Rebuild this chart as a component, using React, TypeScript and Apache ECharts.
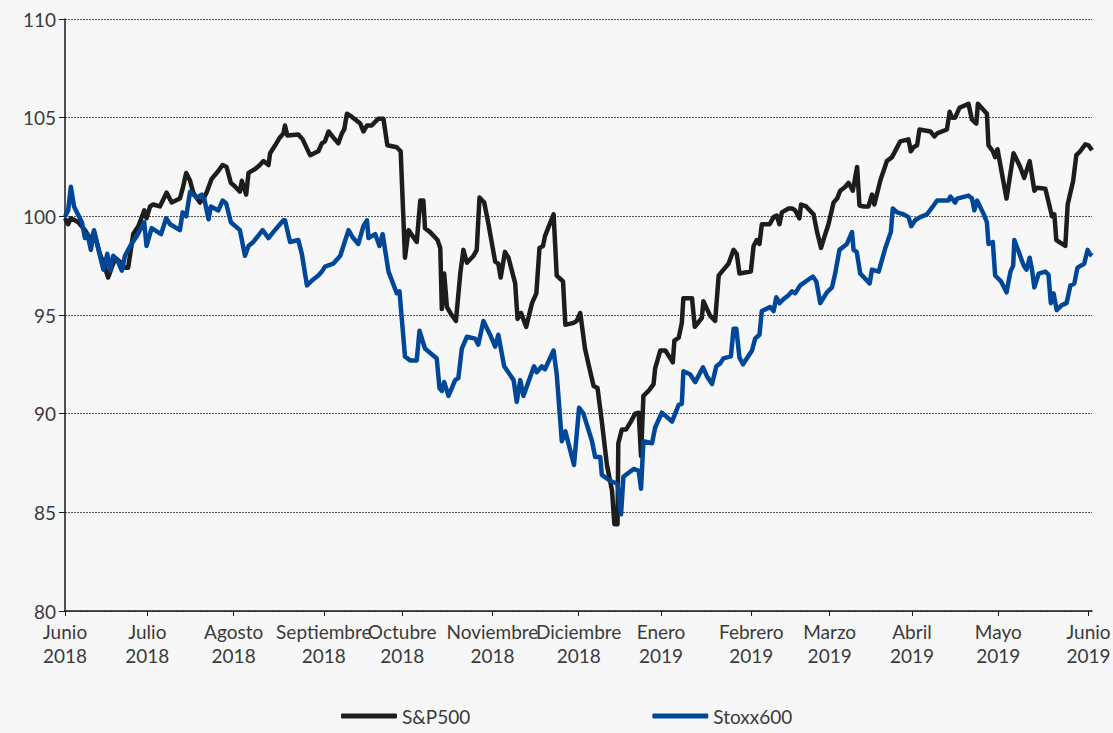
import React, { useEffect, useRef } from "react";
import * as echarts from "echarts";

// x = weekday index counted from 1 June 2018
const monthTicks = [0, 21, 43, 66, 86, 109, 131, 152, 175, 195, 216, 238, 261];
const monthLabels = [
  "Junio\n2018", "Julio\n2018", "Agosto\n2018", "Septiembre\n2018", "Octubre\n2018",
  "Noviembre\n2018", "Diciembre\n2018", "Enero\n2019", "Febrero\n2019", "Marzo\n2019",
  "Abril\n2019", "Mayo\n2019", "Junio\n2019",
];
const seriesNames = ["S&P500", "Stoxx600"];

const spX = [0,0.8,1.5,3.4,5.1,6.6,7.4,8.9,10.2,11.0,11.9,12.8,14.0,15.3,16.1,17.4,18.7,20.2,20.8,21.7,22.5,24.2,25.9,27.2,29.3,30.0,30.9,31.9,32.7,34.4,35.3,36.1,37.4,39.1,40.2,41.2,42.3,43.4,44.6,45.1,46.2,46.8,48.5,49.7,50.6,51.9,52.3,53.6,54.8,55.7,56.1,56.7,59.5,60.6,62.5,64.6,65.5,66.3,67.2,68.4,69.7,70.6,71.2,71.9,73.1,75.3,76.1,77.0,78.2,79.9,81.2,82.2,84.6,85.6,86.7,87.6,89.7,90.6,91.4,91.8,93.1,95.0,95.7,96.1,96.7,97.4,98.6,99.7,100.8,101.6,102.5,104.2,105.0,105.7,106.9,108.0,109.7,110.5,111.1,112.2,113.1,114.8,115.4,116.3,117.6,119.1,120.2,121.0,121.9,122.4,124.6,125.4,127.0,127.6,129.7,130.5,131.4,132.6,133.5,134.8,135.8,136.9,138.2,139.5,140.1,140.9,141.1,142.0,143.1,144.3,145.4,146.3,146.9,147.5,148.8,150.1,150.5,151.8,153.1,155.0,155.4,156.5,157.3,157.7,159.9,160.6,162.4,162.8,164.5,165.8,166.7,167.5,169.2,170.5,171.3,172.0,174.9,175.6,176.4,177.1,177.7,179.7,180.7,181.5,182.2,182.8,184.5,185.4,186.2,187.3,187.7,189.0,190.9,191.8,192.8,193.4,194.7,196.0,196.9,197.7,199.0,199.8,200.9,202.0,202.6,203.7,204.9,205.8,206.4,207.9,209.6,210.9,213.0,215.1,215.7,216.4,217.3,217.9,220.7,221.7,222.4,224.9,225.6,226.2,227.0,228.1,230.4,231.3,232.4,232.8,235.1,235.5,236.6,237.2,237.8,240.1,241.9,243.6,244.6,246.0,247.2,247.9,250.0,251.7,252.3,252.8,255.1,255.7,257.1,257.9,258.9,260.2,261.0,261.9];
const spY = [99.9,99.6,99.9,99.7,99.3,98.8,99.2,98.1,97.4,96.9,97.4,97.9,97.7,97.4,97.4,99.1,99.5,100.3,99.9,100.5,100.6,100.5,101.2,100.7,100.9,101.4,102.2,101.8,101.2,100.7,100.9,101.2,101.9,102.3,102.6,102.5,101.7,101.5,101.25,101.8,101.1,102.2,102.4,102.6,102.8,102.6,103.2,103.6,104.0,104.2,104.6,104.1,104.15,103.9,103.1,103.3,103.7,103.8,104.3,104.0,103.7,104.2,104.4,105.2,105.05,104.7,104.3,104.6,104.6,104.95,104.95,103.6,103.5,103.3,97.9,99.3,98.7,100.8,100.8,99.4,99.2,98.8,98.4,95.3,97.1,95.4,95.0,94.7,97.1,98.3,97.65,98.0,98.3,100.95,100.7,99.6,97.7,97.6,96.9,98.2,97.9,96.6,94.8,95.1,94.4,95.6,96.1,98.4,98.5,99.0,100.1,97.0,96.7,94.5,94.6,94.7,95.1,93.3,92.5,91.4,91.3,89.6,87.4,86.1,84.4,84.4,88.5,89.2,89.2,89.6,90.0,90.05,87.85,90.9,91.15,91.5,92.3,93.2,93.2,92.6,93.7,93.85,94.6,95.85,95.85,94.4,94.85,95.7,94.97,94.7,97.0,97.2,97.6,98.3,98.1,97.1,97.2,98.5,98.8,98.6,99.6,99.6,99.96,100.04,99.6,100.2,100.4,100.4,100.3,99.9,100.6,100.5,100.1,99.2,98.4,98.8,99.6,100.7,100.9,101.3,101.5,101.7,101.3,102.5,100.55,100.5,100.5,101.1,100.6,101.8,102.8,103.0,103.8,103.9,103.3,103.5,103.6,104.4,104.3,104.05,104.2,104.4,105.3,105.0,105.0,105.5,105.7,104.9,104.7,105.7,105.2,103.6,103.3,103.0,103.4,100.9,103.2,102.5,101.95,102.8,101.3,101.45,101.4,100.0,100.1,98.8,98.5,100.6,101.8,103.1,103.3,103.65,103.6,103.35];

const sxX = [0,0.8,1.5,2.3,4.3,5.1,5.7,6.6,7.4,8.9,9.8,10.8,11.5,12.3,13.3,14.5,15.3,16.8,18.3,20.2,20.8,22.1,24.5,25.8,26.8,29.3,30.0,30.9,31.9,33.6,34.9,35.5,36.6,37.2,39.1,40.2,41.1,42.3,44.6,45.9,46.8,48.0,50.4,51.9,53.1,55.7,56.1,57.4,59.5,60.4,61.7,63.3,64.6,65.5,66.3,68.4,70.2,72.3,73.5,74.8,76.1,77.0,77.4,79.1,80.2,81.0,82.5,84.6,85.3,86.7,88.0,89.7,90.4,91.8,94.8,95.5,96.1,96.7,97.8,99.5,100.3,101.2,102.5,104.6,105.4,106.7,108.4,109.7,110.5,112.0,114.4,115.2,116.1,116.9,119.6,120.3,121.6,122.4,124.6,125.4,126.7,127.6,129.8,131.1,132.2,134.4,135.2,136.5,136.9,139.0,140.9,141.8,142.4,145.0,146.3,146.9,147.5,149.7,150.5,152.2,153.1,154.8,156.5,157.3,157.7,159.4,160.7,162.7,163.7,165.0,166.1,167.1,167.9,169.8,170.5,171.2,172.0,172.9,175.2,176.0,177.1,177.7,179.8,180.7,181.4,182.2,183.2,184.5,185.4,186.2,187.5,189.6,190.7,191.6,192.6,194.3,195.6,196.4,197.5,199.4,200.7,201.1,201.9,202.8,205.2,205.8,207.5,209.2,210.6,211.1,212.2,213.9,215.1,215.8,216.8,218.1,219.8,221.5,222.4,225.3,225.8,227.0,227.5,230.4,231.3,231.9,232.6,234.3,235.1,235.5,236.6,237.2,238.7,240.1,241.1,241.8,242.1,243.2,244.5,245.2,246.0,246.6,247.2,248.3,250.0,250.8,251.4,252.1,252.9,254.2,255.4,256.4,257.4,258.2,259.9,260.8,261.3,261.9];
const sxY = [100.0,100.3,101.5,100.5,99.7,98.9,99.1,98.3,99.3,98.0,97.3,98.1,97.25,98.0,97.8,97.25,98.0,98.55,99.0,99.7,98.5,99.4,99.1,99.9,99.6,99.3,100.2,100.0,101.25,100.95,101.1,100.9,99.85,100.5,100.3,100.8,100.65,99.7,99.3,98.0,98.5,98.7,99.3,98.9,99.2,99.8,99.8,98.7,98.8,98.1,96.5,96.8,97.0,97.2,97.45,97.6,98.0,99.3,98.9,98.6,99.5,99.8,98.9,99.1,98.5,99.1,97.2,96.1,96.2,92.9,92.7,92.7,94.2,93.3,92.8,91.3,91.15,91.6,90.9,91.7,91.8,93.3,93.9,93.8,93.5,94.7,94.0,93.4,94.0,92.4,91.7,90.6,91.7,90.9,92.4,92.1,92.4,92.25,93.2,92.0,88.6,89.1,87.4,90.3,90.0,88.6,87.8,87.8,86.9,86.6,86.45,84.9,86.8,87.2,87.1,86.2,88.6,88.5,89.3,90.05,89.9,89.6,90.45,90.5,92.15,92.0,91.6,92.35,91.9,91.5,92.4,92.55,92.8,92.9,94.3,94.3,92.85,92.5,93.2,93.8,94.0,95.2,95.4,95.2,95.9,95.6,95.8,96.0,96.2,96.1,96.5,96.8,96.95,96.7,95.6,96.15,96.4,97.1,98.3,98.6,99.2,98.3,98.2,97.1,96.6,97.3,97.2,98.4,99.2,100.4,100.2,100.1,99.96,99.5,99.8,99.96,100.1,100.55,100.8,100.8,101.0,100.7,100.9,101.05,100.9,100.3,100.8,100.1,99.7,98.6,98.7,97.0,96.7,96.15,97.2,97.5,98.8,98.2,97.5,97.3,97.9,97.3,96.4,97.1,97.2,97.05,95.6,96.1,95.25,95.5,95.6,96.5,96.6,97.4,97.6,98.3,98.1,98.0];

const FONT = "Lato, 'Open Sans', sans-serif";
const TXT = "#3a3a3a";

export default function App() {
  const ref = useRef<HTMLDivElement>(null);
  useEffect(() => {
    if (!ref.current) return;
    const chart = echarts.init(ref.current, null, { renderer: "svg" });
    const spData = spX.map((x, i) => [x, spY[i]]);
    const sxData = sxX.map((x, i) => [x, sxY[i]]);
    chart.setOption({
      animation: false,
      backgroundColor: "#f7f7f7",
      textStyle: { fontFamily: FONT },
      grid: { left: 65, right: 21, top: 19, bottom: 122, outerBoundsMode: "none" },
      legend: {
        data: seriesNames,
        left: 341,
        top: 705,
        padding: 0,
        itemWidth: 56,
        itemHeight: 5,
        itemGap: 182,
        icon: "roundRect",
        textStyle: { fontSize: 19, color: TXT, fontFamily: FONT, lineHeight: 22 },
      },
      xAxis: {
        type: "value",
        min: 0,
        max: 261.9,
        splitLine: { show: false },
        axisLine: { lineStyle: { color: "#1a1a1a", width: 1.5 } },
        axisTick: { show: true, length: 5, customValues: monthTicks, lineStyle: { color: "#1a1a1a" } },
        axisLabel: {
          customValues: monthTicks,
          formatter: (v: number) => {
            const i = monthTicks.indexOf(Math.round(v));
            return i >= 0 ? monthLabels[i] : "";
          },
          fontSize: 19,
          lineHeight: 24,
          margin: 8,
          color: TXT,
          fontFamily: FONT,
          showMinLabel: true,
          showMaxLabel: true,
          hideOverlap: false,
        },
      },
      yAxis: {
        type: "value",
        min: 80,
        max: 110,
        interval: 5,
        axisLine: { show: true, lineStyle: { color: "#1a1a1a", width: 1.5 } },
        axisTick: { show: true, length: 6, lineStyle: { color: "#1a1a1a" } },
        axisLabel: { fontSize: 19, color: TXT, margin: 9, fontFamily: FONT },
        splitLine: { show: true, lineStyle: { color: "#555", type: [2, 1], width: 1 } },
      },
      series: [
        {
          name: seriesNames[0],
          type: "line",
          data: spData,
          symbol: "none",
          color: "#1d1d1b",
          lineStyle: { width: 4.5, color: "#1d1d1b", join: "round" },
          z: 3,
        },
        {
          name: seriesNames[1],
          type: "line",
          data: sxData,
          symbol: "none",
          color: "#00479a",
          lineStyle: { width: 4.5, color: "#00479a", join: "round" },
          z: 4,
        },
      ],
    });
    return () => chart.dispose();
  }, []);
  return (
    <div
      ref={ref}
      style={{ position: "absolute", left: 0, top: 0, width: 1113, height: 733, background: "#f7f7f7" }}
    />
  );
}
